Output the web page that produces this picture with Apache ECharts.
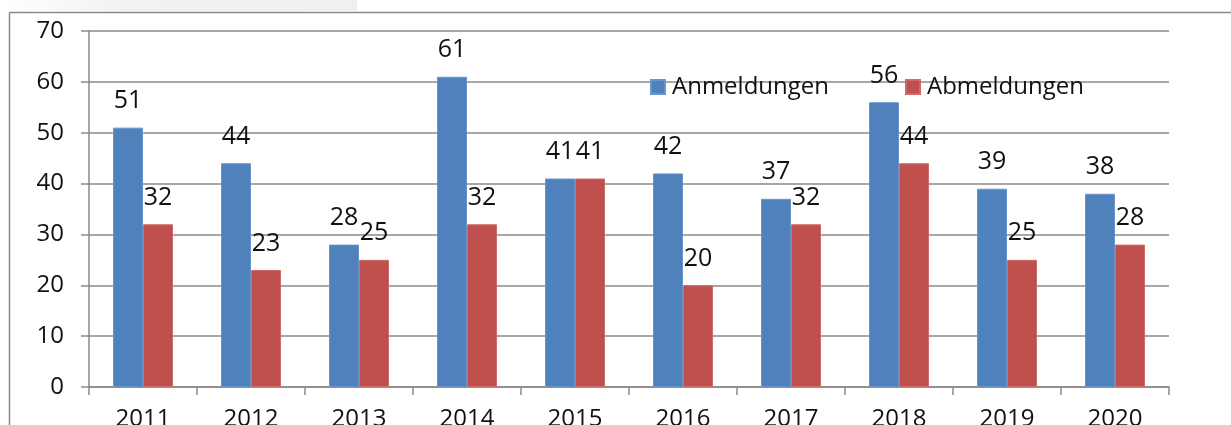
<!DOCTYPE html>
<html>
<head>
<meta charset="utf-8">
<script src="https://cdn.jsdelivr.net/npm/echarts@6/dist/echarts.min.js"></script>
<style>
html,body{margin:0;padding:0;background:#fff;}
#chart{width:1231px;height:425px;}
</style>
</head>
<body>
<div id="chart"></div>
<script>
const categories = ['2011','2012','2013','2014','2015','2016','2017','2018','2019','2020'];
const anmeldungen = [51, 44, 28, 61, 41, 42, 37, 56, 39, 38];
const abmeldungen = [32, 23, 25, 32, 41, 20, 32, 44, 25, 28];
const seriesNames = ['Anmeldungen', 'Abmeldungen'];

const FONT = '"Open Sans", "Noto Sans", sans-serif';
const chart = echarts.init(document.getElementById('chart'), null, {renderer: 'canvas'});

const labelStyle = {show: true, position: 'top', distance: 14, fontSize: 25, color: '#111', fontFamily: FONT};

chart.setOption({
  animation: false,
  backgroundColor: '#fff',
  textStyle: {fontFamily: FONT},
  graphic: [
    {type: 'rect', shape: {x: 0, y: 0, width: 357, height: 11}, z: -10,
     style: {fill: new echarts.graphic.LinearGradient(0, 0, 1, 0, [
       {offset: 0, color: '#ffffff'}, {offset: 0.35, color: '#f2f2f2'}, {offset: 1, color: '#f0f0f0'}])}},
    {type: 'line', shape: {x1: 9.5, y1: 12.5, x2: 1231, y2: 12.5}, style: {stroke: '#8a8a8a', lineWidth: 1.5}},
    {type: 'line', shape: {x1: 9.5, y1: 12.5, x2: 9.5, y2: 425}, style: {stroke: '#8a8a8a', lineWidth: 1.5}}
  ],
  grid: {left: 89, right: 62, top: 31, bottom: 38, containLabel: false, outerBoundsMode: 'none'},
  legend: {
    data: seriesNames,
    left: 650, top: 75, padding: 0,
    itemWidth: 14, itemHeight: 14, itemGap: 76,
    icon: 'rect',
    textStyle: {fontSize: 24, color: '#111', fontFamily: FONT, padding: [0,0,0,2]}
  },
  xAxis: {
    type: 'category',
    data: categories,
    axisLine: {lineStyle: {color: '#8a8a8a', width: 1.5}},
    axisTick: {show: true, length: 8, lineStyle: {color: '#8a8a8a', width: 1.5}},
    axisLabel: {fontSize: 24, color: '#111', margin: 20, fontFamily: FONT}
  },
  yAxis: {
    type: 'value',
    min: 0, max: 70, interval: 10,
    axisLine: {show: true, lineStyle: {color: '#8a8a8a', width: 1.5}},
    axisTick: {show: true, length: 8, lineStyle: {color: '#8a8a8a', width: 1.5}},
    splitLine: {lineStyle: {color: '#8a8a8a', width: 1.5}},
    axisLabel: {fontSize: 24, color: '#111', margin: 25, fontFamily: FONT}
  },
  series: [
    {name: seriesNames[0], type: 'bar', data: anmeldungen, barWidth: 30, barGap: '0%',
     itemStyle: {color: '#4F81BD', borderColor: '#6b94c8', borderWidth: 1}, label: labelStyle},
    {name: seriesNames[1], type: 'bar', data: abmeldungen, barWidth: 30,
     itemStyle: {color: '#C0504D', borderColor: '#cc6b68', borderWidth: 1}, label: labelStyle}
  ]
});
</script>
</body>
</html>
